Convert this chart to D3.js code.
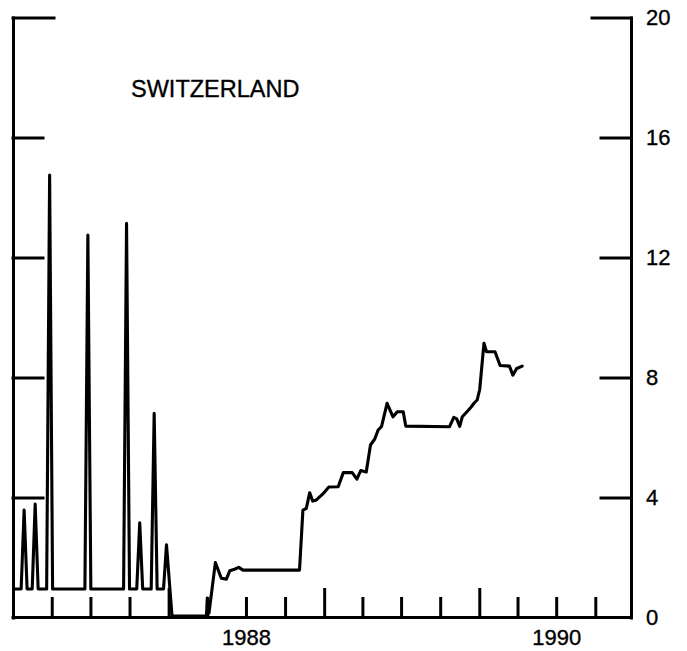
<!DOCTYPE html>
<html>
<head>
<meta charset="utf-8">
<script src="https://cdn.jsdelivr.net/npm/d3@7/dist/d3.min.js"></script>
<style>
  html, body { margin: 0; padding: 0; background: #fff; }
  svg { display: block; }
  text { font-family: "Liberation Sans", Arial, Helvetica, sans-serif; fill: #000; }
</style>
</head>
<body>
<svg id="chart" width="687" height="651"></svg>
<script>
// ---- data ----
const title = "SWITZERLAND";
const dates = [
  "1987-01-04","1987-01-19","1987-01-26","1987-02-02","1987-02-14","1987-02-21","1987-02-28",
  "1987-03-20","1987-03-27","1987-04-03","1987-06-18","1987-06-25","1987-07-02",
  "1987-09-17","1987-09-24","1987-10-01","1987-10-18","1987-10-25","1987-11-01",
  "1987-11-21","1987-11-28","1987-12-05","1987-12-20","1987-12-27",
  "1988-01-09","1988-03-30","1988-04-01","1988-04-05","1988-04-20","1988-05-04","1988-05-16",
  "1988-05-24","1988-06-04","1988-06-14","1988-06-24","1988-11-04","1988-11-12","1988-11-20",
  "1988-11-28","1988-12-05","1988-12-13","1988-12-29","1989-01-12","1989-02-03","1989-02-15",
  "1989-03-08","1989-03-19","1989-03-28","1989-04-10","1989-04-20","1989-04-30","1989-05-08",
  "1989-05-16","1989-05-29","1989-06-12","1989-06-22","1989-07-06","1989-07-12","1989-10-23",
  "1989-11-02","1989-11-09","1989-11-16","1989-11-22","1989-12-03","1989-12-12","1989-12-20",
  "1989-12-27","1990-01-02","1990-01-12","1990-01-18","1990-02-07","1990-02-19","1990-03-13",
  "1990-03-21","1990-03-30","1990-04-12"
];
const values = [
  0.95,0.95,3.58,0.95,0.95,3.78,0.95,
  0.95,14.75,0.95,0.95,12.75,0.95,
  0.95,13.14,0.95,0.95,3.16,0.95,
  0.95,6.81,0.95,0.95,2.42,
  0.05,0.05,0.65,0.15,1.83,1.31,1.28,
  1.56,1.61,1.67,1.58,1.58,3.58,3.64,
  4.16,3.88,3.91,4.12,4.35,4.36,4.83,
  4.83,4.61,4.90,4.85,5.75,5.95,6.25,
  6.36,7.14,6.69,6.86,6.86,6.38,6.36,
  6.67,6.62,6.37,6.69,6.86,7.00,7.15,
  7.25,7.60,9.14,8.86,8.86,8.40,8.38,
  8.08,8.30,8.38
];
const yTicks = [0, 4, 8, 12, 16, 20];
const xTicks = [
  "1987-04-01","1987-07-01","1987-10-01","1988-01-01","1988-04-01","1988-07-01","1988-10-01",
  "1989-01-01","1989-04-01","1989-07-01","1989-10-01","1990-01-01","1990-04-01","1990-07-01","1990-10-01"
];
const yearLabels = ["1988-07-01", "1990-07-01"];
const yearLabelText = ["1988", "1990"];

// ---- layout ----
const parse = d3.timeParse("%Y-%m-%d");
const svg = d3.select("#chart");
const padL = 13, padR = 631, padT = 17.5, padB = 617.5;

const x = d3.scaleTime()
  .domain([new Date(1987, 0, 1), new Date(1990, 11, 24)])
  .range([13.5, padR]);
const y = d3.scaleLinear().domain([0, 20]).range([padB, padT]);

const axisStroke = 3;

// left axis (ticks pointing inward, no labels)
const gl = svg.append("g").attr("transform", `translate(${padL},0)`)
  .call(d3.axisRight(y).tickValues(yTicks.filter(v => v > 0)).tickSize(30).tickSizeOuter(0).tickFormat(""));
gl.selectAll("line").filter(d => d === 20).attr("x2", 41);

// right axis (ticks inward, labels outside)
const gr = svg.append("g").attr("transform", `translate(${padR},0)`)
  .call(d3.axisRight(y).tickValues(yTicks).tickSizeInner(-30).tickSizeOuter(0).tickPadding(15));
gr.selectAll("line").filter(d => d === 0).remove();
gr.selectAll("line").filter(d => d === 20).attr("x2", -39);

// bottom axis (ticks pointing up)
const gb = svg.append("g").attr("transform", `translate(0,${padB})`)
  .call(d3.axisBottom(x).tickValues(xTicks.map(parse)).tickSizeInner(-19).tickSizeOuter(0).tickFormat(""));
gb.select(".domain").attr("d", `M${padL},0H${padR}`);
gb.selectAll("line").filter(d => d.getMonth() === 0).attr("y2", -28);

// year labels
svg.append("g").attr("transform", `translate(0,${padB})`)
  .call(d3.axisBottom(x).tickValues(yearLabels.map(parse)).tickSize(0).tickPadding(12)
    .tickFormat((d, i) => yearLabelText[i]))
  .call(g => g.select(".domain").remove());

svg.selectAll(".domain, .tick line")
  .attr("stroke", "#000").attr("stroke-width", axisStroke).attr("stroke-linecap", "square");
svg.selectAll(".tick text").attr("font-size", 22).attr("fill", "#000")
  .attr("stroke", "#000").attr("stroke-width", 0.35)
  .attr("font-family", "'Liberation Sans', Arial, Helvetica, sans-serif");

// series line
const pts = dates.map((d, i) => ({ t: parse(d), v: values[i] }));
svg.append("path")
  .datum(pts)
  .attr("fill", "none")
  .attr("stroke", "#000")
  .attr("stroke-width", 3.1)
  .attr("stroke-linejoin", "round")
  .attr("stroke-linecap", "round")
  .attr("d", d3.line().x(d => x(d.t)).y(d => y(d.v)));

// title
svg.append("text")
  .attr("x", 131).attr("y", 97)
  .attr("font-size", 23.5)
  .attr("stroke", "#000").attr("stroke-width", 0.35)
  .text(title);
</script>
</body>
</html>
